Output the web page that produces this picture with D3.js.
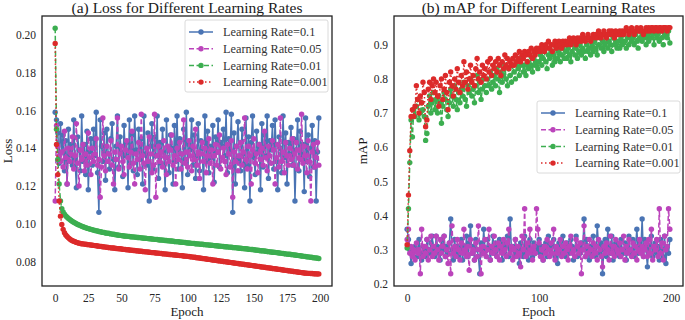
<!DOCTYPE html>
<html>
  <head>
    <meta charset="UTF-8">
    <style>
      body {
        margin: 0;
        background: #fff;
      }
      svg text {
        font-family: 'Liberation Serif', 'Times New Roman', serif;
      }
      .tick text {
        font-size: 11.5px;
        fill: #262626;
      }
      .title {
        font-size: 15.5px;
        fill: #1a1a1a;
      }
      .axis-label {
        font-size: 13px;
        fill: #1a1a1a;
      }
      .legend text {
        font-size: 12.3px;
        fill: #333;
      }
    </style>
    <script src="https://d3js.org/d3.v7.min.js"></script>
  </head>

  <body>
    <svg id="chart"></svg>

    <script type="text/javascript">
      // series labels and colours
      let seriesNames = ['Learning Rate=0.1', 'Learning Rate=0.05', 'Learning Rate=0.01', 'Learning Rate=0.001']
      let seriesColors = ['#4a74b4', '#bb44bb', '#3cae50', '#dc2a2a']
      let seriesDash = [null, '5,2.5', '5,2.5', '1.5,2.5']

      // (a) loss per epoch (epochs 0..199)
      let lossLr01 = [
        0.159, 0.155, 0.148, 0.132, 0.153, 0.138, 0.147, 0.128, 0.144, 0.121, 0.150, 0.136, 0.142, 0.131, 0.155, 0.134, 0.119, 0.146, 0.139, 0.128,
        0.157, 0.133, 0.142, 0.126, 0.149, 0.118, 0.138, 0.145, 0.131, 0.150, 0.136, 0.159, 0.127, 0.106, 0.155, 0.141, 0.133, 0.148, 0.123, 0.150,
        0.137, 0.129, 0.145, 0.153, 0.134, 0.118, 0.141, 0.157, 0.130, 0.146, 0.138, 0.125, 0.152, 0.136, 0.143, 0.119, 0.155, 0.132, 0.147, 0.128,
        0.157, 0.139, 0.126, 0.150, 0.134, 0.145, 0.121, 0.157, 0.137, 0.131, 0.148, 0.112, 0.141, 0.153, 0.129, 0.146, 0.136, 0.157, 0.124, 0.143,
        0.132, 0.150, 0.138, 0.118, 0.155, 0.135, 0.127, 0.147, 0.140, 0.121, 0.152, 0.133, 0.157, 0.129, 0.145, 0.137, 0.119, 0.150, 0.134, 0.159,
        0.126, 0.142, 0.139, 0.155, 0.131, 0.147, 0.124, 0.136, 0.153, 0.128, 0.144, 0.140, 0.118, 0.157, 0.133, 0.149, 0.127, 0.141, 0.135, 0.152,
        0.122, 0.146, 0.138, 0.155, 0.130, 0.143, 0.141, 0.150, 0.136, 0.159, 0.127, 0.145, 0.139, 0.158, 0.106, 0.148, 0.121, 0.141, 0.154, 0.134,
        0.128, 0.150, 0.137, 0.119, 0.156, 0.131, 0.146, 0.112, 0.143, 0.157, 0.135, 0.126, 0.149, 0.138, 0.142, 0.118, 0.153, 0.130, 0.147, 0.136,
        0.157, 0.124, 0.144, 0.139, 0.152, 0.129, 0.155, 0.133, 0.118, 0.146, 0.140, 0.127, 0.157, 0.135, 0.148, 0.121, 0.143, 0.137, 0.151, 0.131,
        0.145, 0.112, 0.139, 0.155, 0.128, 0.149, 0.136, 0.142, 0.117, 0.156, 0.133, 0.147, 0.125, 0.140, 0.152, 0.130, 0.144, 0.112, 0.138, 0.156
      ]
      let lossLr005 = [
        0.112, 0.152, 0.141, 0.136, 0.133, 0.138, 0.130, 0.149, 0.135, 0.121, 0.140, 0.133, 0.137, 0.146, 0.129, 0.136, 0.153, 0.132, 0.120, 0.139,
        0.134, 0.142, 0.128, 0.137, 0.131, 0.148, 0.135, 0.126, 0.140, 0.133, 0.137, 0.145, 0.131, 0.134, 0.114, 0.130, 0.156, 0.136, 0.128, 0.141,
        0.133, 0.137, 0.144, 0.131, 0.121, 0.138, 0.134, 0.156, 0.129, 0.137, 0.141, 0.133, 0.126, 0.139, 0.144, 0.135, 0.130, 0.138, 0.149, 0.132,
        0.121, 0.137, 0.134, 0.143, 0.129, 0.158, 0.136, 0.132, 0.118, 0.140, 0.133, 0.146, 0.137, 0.127, 0.131, 0.158, 0.114, 0.136, 0.141, 0.133,
        0.138, 0.130, 0.144, 0.135, 0.126, 0.141, 0.133, 0.139, 0.147, 0.131, 0.136, 0.121, 0.140, 0.134, 0.143, 0.129, 0.137, 0.155, 0.132, 0.138,
        0.130, 0.144, 0.136, 0.128, 0.141, 0.134, 0.150, 0.131, 0.138, 0.124, 0.137, 0.143, 0.133, 0.140, 0.127, 0.136, 0.145, 0.132, 0.139, 0.121,
        0.136, 0.142, 0.131, 0.138, 0.147, 0.129, 0.135, 0.140, 0.133, 0.126, 0.142, 0.137, 0.130, 0.144, 0.114, 0.138, 0.133, 0.141, 0.128, 0.136,
        0.143, 0.131, 0.138, 0.156, 0.134, 0.129, 0.141, 0.136, 0.121, 0.139, 0.145, 0.132, 0.137, 0.127, 0.142, 0.134, 0.140, 0.131, 0.149, 0.135,
        0.128, 0.141, 0.136, 0.132, 0.144, 0.139, 0.121, 0.135, 0.142, 0.130, 0.156, 0.133, 0.138, 0.127, 0.143, 0.136, 0.131, 0.140, 0.134, 0.145,
        0.131, 0.137, 0.143, 0.129, 0.139, 0.134, 0.158, 0.132, 0.141, 0.136, 0.127, 0.144, 0.133, 0.112, 0.138, 0.142, 0.130, 0.135, 0.143, 0.131
      ]
      let lossLr001 = [
        0.2035, 0.150, 0.134, 0.121, 0.112, 0.108, 0.1062, 0.1050, 0.1041, 0.1034, 0.1028, 0.1022, 0.1017, 0.1012, 0.1008, 0.1004, 0.1000, 0.0996, 0.0993, 0.0990,
        0.0987, 0.0984, 0.0981, 0.0979, 0.0976, 0.0974, 0.0972, 0.0970, 0.0968, 0.0966, 0.0964, 0.0962, 0.0961, 0.0959, 0.0957, 0.0956, 0.0954, 0.0953, 0.0951, 0.0950,
        0.0949, 0.0948, 0.0946, 0.0945, 0.0944, 0.0943, 0.0941, 0.0940, 0.0939, 0.0938, 0.0937, 0.0936, 0.0935, 0.0934, 0.0934, 0.0933, 0.0932, 0.0931, 0.0930, 0.0930,
        0.0929, 0.0928, 0.0927, 0.0927, 0.0926, 0.0925, 0.0924, 0.0923, 0.0923, 0.0922, 0.0921, 0.0920, 0.0920, 0.0919, 0.0918, 0.0917, 0.0917, 0.0916, 0.0915, 0.0914,
        0.0914, 0.0913, 0.0912, 0.0911, 0.0911, 0.0910, 0.0909, 0.0908, 0.0908, 0.0907, 0.0906, 0.0905, 0.0905, 0.0904, 0.0903, 0.0902, 0.0902, 0.0901, 0.0900, 0.0899,
        0.0898, 0.0898, 0.0897, 0.0896, 0.0896, 0.0895, 0.0894, 0.0893, 0.0893, 0.0892, 0.0891, 0.0891, 0.0890, 0.0889, 0.0888, 0.0888, 0.0887, 0.0886, 0.0886, 0.0885,
        0.0884, 0.0883, 0.0883, 0.0882, 0.0881, 0.0881, 0.0880, 0.0879, 0.0878, 0.0878, 0.0877, 0.0876, 0.0876, 0.0875, 0.0874, 0.0873, 0.0873, 0.0872, 0.0871, 0.0870,
        0.0870, 0.0869, 0.0868, 0.0867, 0.0867, 0.0866, 0.0865, 0.0864, 0.0863, 0.0863, 0.0862, 0.0861, 0.0860, 0.0859, 0.0858, 0.0857, 0.0857, 0.0856, 0.0855, 0.0854,
        0.0853, 0.0852, 0.0851, 0.0850, 0.0849, 0.0849, 0.0848, 0.0847, 0.0846, 0.0845, 0.0844, 0.0843, 0.0842, 0.0841, 0.0840, 0.0839, 0.0838, 0.0838, 0.0837, 0.0836,
        0.0835, 0.0834, 0.0833, 0.0832, 0.0831, 0.0830, 0.0829, 0.0828, 0.0827, 0.0826, 0.0825, 0.0824, 0.0823, 0.0822, 0.0821, 0.0820, 0.0819, 0.0818, 0.0817, 0.0816
      ]
      let lossLr0001 = [
        0.1955, 0.142, 0.126, 0.112, 0.104, 0.0996, 0.0970, 0.0952, 0.0940, 0.0932, 0.0925, 0.0919, 0.0914, 0.0910, 0.0907, 0.0904, 0.0901, 0.0899, 0.0897, 0.0895,
        0.0894, 0.0893, 0.0892, 0.0891, 0.0890, 0.0889, 0.0888, 0.0887, 0.0886, 0.0885, 0.0884, 0.0883, 0.0882, 0.0881, 0.0880, 0.0879, 0.0878, 0.0877, 0.0876, 0.0875,
        0.0874, 0.0873, 0.0872, 0.0871, 0.0871, 0.0870, 0.0869, 0.0868, 0.0867, 0.0867, 0.0866, 0.0865, 0.0864, 0.0863, 0.0862, 0.0862, 0.0861, 0.0860, 0.0859, 0.0858,
        0.0858, 0.0857, 0.0856, 0.0855, 0.0854, 0.0854, 0.0853, 0.0852, 0.0851, 0.0851, 0.0850, 0.0849, 0.0848, 0.0847, 0.0847, 0.0846, 0.0845, 0.0844, 0.0844, 0.0843,
        0.0842, 0.0841, 0.0840, 0.0840, 0.0839, 0.0838, 0.0837, 0.0837, 0.0836, 0.0835, 0.0834, 0.0834, 0.0833, 0.0832, 0.0831, 0.0831, 0.0830, 0.0829, 0.0828, 0.0828,
        0.0827, 0.0826, 0.0825, 0.0824, 0.0823, 0.0822, 0.0821, 0.0820, 0.0819, 0.0818, 0.0817, 0.0816, 0.0815, 0.0814, 0.0813, 0.0812, 0.0811, 0.0810, 0.0809, 0.0808,
        0.0807, 0.0806, 0.0805, 0.0804, 0.0803, 0.0802, 0.0801, 0.0800, 0.0799, 0.0798, 0.0797, 0.0796, 0.0795, 0.0794, 0.0793, 0.0792, 0.0791, 0.0790, 0.0789, 0.0788,
        0.0787, 0.0786, 0.0785, 0.0784, 0.0783, 0.0782, 0.0781, 0.0780, 0.0779, 0.0778, 0.0777, 0.0776, 0.0775, 0.0774, 0.0773, 0.0772, 0.0771, 0.0770, 0.0769, 0.0768,
        0.0767, 0.0766, 0.0765, 0.0764, 0.0763, 0.0762, 0.0761, 0.0760, 0.0759, 0.0758, 0.0757, 0.0756, 0.0755, 0.0754, 0.0753, 0.0752, 0.0751, 0.0750, 0.0749, 0.0748,
        0.0747, 0.0746, 0.0745, 0.0744, 0.0743, 0.0742, 0.0741, 0.0740, 0.0739, 0.0738, 0.0738, 0.0737, 0.0737, 0.0736, 0.0736, 0.0735, 0.0735, 0.0734, 0.0734, 0.0734
      ]

      // (b) mAP per epoch (epochs 0..199)
      let mapLr01 = [
        0.36, 0.33, 0.30, 0.26, 0.29, 0.28, 0.31, 0.30, 0.28, 0.33, 0.29, 0.27, 0.31, 0.30, 0.28, 0.33, 0.30, 0.29, 0.32, 0.34,
        0.30, 0.28, 0.34, 0.31, 0.29, 0.27, 0.33, 0.30, 0.34, 0.28, 0.31, 0.29, 0.32, 0.39, 0.30, 0.27, 0.33, 0.29, 0.31, 0.28,
        0.30, 0.33, 0.27, 0.31, 0.29, 0.34, 0.28, 0.32, 0.37, 0.29, 0.31, 0.27, 0.33, 0.30, 0.28, 0.23, 0.32, 0.29, 0.36, 0.30,
        0.28, 0.33, 0.31, 0.27, 0.30, 0.34, 0.29, 0.32, 0.28, 0.31, 0.33, 0.30, 0.27, 0.32, 0.29, 0.31, 0.34, 0.28, 0.39, 0.30,
        0.31, 0.28, 0.33, 0.29, 0.30, 0.26, 0.32, 0.30, 0.28, 0.34, 0.29, 0.31, 0.27, 0.33, 0.30, 0.28, 0.32, 0.29, 0.31, 0.30,
        0.33, 0.29, 0.31, 0.27, 0.30, 0.32, 0.28, 0.34, 0.30, 0.29, 0.31, 0.33, 0.28, 0.30, 0.26, 0.32, 0.29, 0.31, 0.34, 0.30,
        0.28, 0.32, 0.30, 0.29, 0.33, 0.31, 0.27, 0.30, 0.34, 0.28, 0.31, 0.29, 0.32, 0.30, 0.39, 0.28, 0.33, 0.30, 0.27, 0.31,
        0.29, 0.34, 0.30, 0.28, 0.37, 0.31, 0.29, 0.32, 0.23, 0.30, 0.33, 0.28, 0.36, 0.31, 0.29, 0.34, 0.27, 0.30, 0.32, 0.29,
        0.31, 0.28, 0.33, 0.30, 0.29, 0.32, 0.27, 0.31, 0.34, 0.29, 0.30, 0.33, 0.28, 0.31, 0.36, 0.29, 0.32, 0.30, 0.39, 0.28,
        0.33, 0.30, 0.25, 0.31, 0.29, 0.34, 0.28, 0.30, 0.32, 0.29, 0.31, 0.27, 0.33, 0.30, 0.28, 0.34, 0.26, 0.31, 0.29, 0.33
      ]
      let mapLr005 = [
        0.33, 0.36, 0.29, 0.31, 0.28, 0.30, 0.27, 0.32, 0.29, 0.30, 0.23, 0.36, 0.28, 0.31, 0.29, 0.33, 0.27, 0.30, 0.34, 0.28,
        0.31, 0.29, 0.34, 0.30, 0.27, 0.33, 0.29, 0.31, 0.34, 0.28, 0.30, 0.26, 0.32, 0.23, 0.37, 0.29, 0.31, 0.28, 0.33, 0.30,
        0.27, 0.32, 0.29, 0.36, 0.30, 0.28, 0.31, 0.24, 0.33, 0.29, 0.30, 0.27, 0.32, 0.28, 0.37, 0.30, 0.23, 0.31, 0.29, 0.33,
        0.28, 0.30, 0.36, 0.27, 0.31, 0.29, 0.34, 0.30, 0.28, 0.32, 0.27, 0.31, 0.29, 0.33, 0.30, 0.28, 0.32, 0.36, 0.29, 0.31,
        0.27, 0.30, 0.33, 0.28, 0.31, 0.29, 0.25, 0.34, 0.30, 0.42, 0.28, 0.32, 0.29, 0.36, 0.30, 0.27, 0.31, 0.29, 0.42, 0.36,
        0.32, 0.28, 0.30, 0.27, 0.31, 0.29, 0.33, 0.30, 0.28, 0.32, 0.29, 0.36, 0.27, 0.31, 0.29, 0.30, 0.33, 0.28, 0.31, 0.29,
        0.32, 0.30, 0.27, 0.31, 0.34, 0.29, 0.30, 0.28, 0.33, 0.31, 0.29, 0.32, 0.23, 0.30, 0.37, 0.28, 0.31, 0.29, 0.33, 0.30,
        0.28, 0.32, 0.29, 0.31, 0.27, 0.33, 0.30, 0.28, 0.25, 0.31, 0.29, 0.32, 0.30, 0.27, 0.34, 0.29, 0.31, 0.28, 0.33, 0.30,
        0.29, 0.32, 0.28, 0.30, 0.34, 0.27, 0.31, 0.29, 0.33, 0.30, 0.28, 0.32, 0.29, 0.31, 0.27, 0.30, 0.33, 0.29, 0.31, 0.28,
        0.30, 0.32, 0.28, 0.33, 0.29, 0.36, 0.27, 0.31, 0.30, 0.33, 0.28, 0.42, 0.29, 0.32, 0.27, 0.34, 0.30, 0.31, 0.42, 0.36
      ]
      let mapLr001 = [
        0.305, 0.42, 0.555, 0.68, 0.63, 0.71, 0.69, 0.72, 0.74, 0.68, 0.70, 0.73, 0.71, 0.69, 0.62, 0.64, 0.72, 0.75, 0.70, 0.73,
        0.76, 0.71, 0.74, 0.70, 0.75, 0.73, 0.67, 0.72, 0.76, 0.74, 0.71, 0.69, 0.73, 0.77, 0.75, 0.72, 0.78, 0.74, 0.71, 0.76,
        0.73, 0.77, 0.75, 0.79, 0.74, 0.72, 0.78, 0.76, 0.80, 0.75, 0.77, 0.73, 0.78, 0.81, 0.76, 0.79, 0.74, 0.77, 0.80, 0.78,
        0.76, 0.80, 0.78, 0.82, 0.77, 0.79, 0.81, 0.78, 0.83, 0.80, 0.76, 0.82, 0.79, 0.81, 0.84, 0.80, 0.78, 0.83, 0.81, 0.79,
        0.84, 0.82, 0.80, 0.85, 0.83, 0.81, 0.84, 0.86, 0.82, 0.84, 0.81, 0.85, 0.83, 0.87, 0.84, 0.82, 0.86, 0.84, 0.85, 0.83,
        0.85, 0.87, 0.84, 0.86, 0.88, 0.85, 0.83, 0.87, 0.86, 0.88, 0.84, 0.87, 0.85, 0.89, 0.86, 0.88, 0.85, 0.87, 0.89, 0.86,
        0.88, 0.86, 0.89, 0.87, 0.85, 0.88, 0.90, 0.87, 0.89, 0.86, 0.88, 0.90, 0.87, 0.89, 0.88, 0.86, 0.90, 0.88, 0.89, 0.87,
        0.90, 0.88, 0.91, 0.89, 0.87, 0.90, 0.92, 0.89, 0.91, 0.88, 0.90, 0.92, 0.89, 0.91, 0.90, 0.88, 0.92, 0.90, 0.91, 0.89,
        0.91, 0.89, 0.92, 0.90, 0.93, 0.91, 0.89, 0.92, 0.90, 0.93, 0.91, 0.92, 0.90, 0.93, 0.91, 0.89, 0.92, 0.94, 0.91, 0.93,
        0.92, 0.90, 0.93, 0.91, 0.94, 0.92, 0.93, 0.90, 0.94, 0.92, 0.93, 0.91, 0.94, 0.92, 0.90, 0.93, 0.94, 0.92, 0.94, 0.905
      ]
      let mapLr0001 = [
        0.315, 0.46, 0.59, 0.69, 0.71, 0.69, 0.72, 0.78, 0.74, 0.70, 0.75, 0.73, 0.79, 0.76, 0.66, 0.68, 0.77, 0.79, 0.74, 0.78,
        0.80, 0.76, 0.79, 0.75, 0.72, 0.78, 0.80, 0.74, 0.77, 0.81, 0.76, 0.71, 0.79, 0.82, 0.78, 0.75, 0.80, 0.77, 0.83, 0.79,
        0.76, 0.81, 0.78, 0.85, 0.79, 0.82, 0.77, 0.80, 0.84, 0.79, 0.81, 0.78, 0.83, 0.86, 0.80, 0.82, 0.79, 0.84, 0.81, 0.83,
        0.80, 0.85, 0.82, 0.86, 0.81, 0.84, 0.83, 0.85, 0.82, 0.86, 0.84, 0.81, 0.85, 0.83, 0.87, 0.84, 0.86, 0.83, 0.85, 0.84,
        0.86, 0.84, 0.87, 0.85, 0.86, 0.88, 0.85, 0.87, 0.86, 0.88, 0.87, 0.85, 0.88, 0.87, 0.89, 0.86, 0.88, 0.87, 0.89, 0.88,
        0.89, 0.88, 0.90, 0.89, 0.88, 0.90, 0.89, 0.91, 0.89, 0.90, 0.88, 0.90, 0.91, 0.89, 0.90, 0.91, 0.90, 0.89, 0.91, 0.90,
        0.91, 0.90, 0.91, 0.92, 0.90, 0.91, 0.92, 0.91, 0.90, 0.92, 0.91, 0.92, 0.91, 0.93, 0.92, 0.91, 0.92, 0.93, 0.92, 0.91,
        0.92, 0.93, 0.92, 0.93, 0.92, 0.94, 0.93, 0.92, 0.93, 0.94, 0.93, 0.92, 0.93, 0.94, 0.93, 0.94, 0.93, 0.92, 0.94, 0.93,
        0.93, 0.94, 0.93, 0.94, 0.93, 0.94, 0.95, 0.94, 0.93, 0.94, 0.95, 0.94, 0.93, 0.94, 0.95, 0.94, 0.94, 0.95, 0.94, 0.93,
        0.94, 0.95, 0.94, 0.95, 0.94, 0.95, 0.95, 0.94, 0.95, 0.95, 0.94, 0.95, 0.95, 0.94, 0.95, 0.95, 0.95, 0.94, 0.95, 0.95
      ]

      // tick labels
      let lossXTicks = [0, 25, 50, 75, 100, 125, 150, 175, 200]
      let lossYTicks = [0.08, 0.10, 0.12, 0.14, 0.16, 0.18, 0.20]
      let mapXTicks = [0, 100, 200]
      let mapYTicks = [0.2, 0.3, 0.4, 0.5, 0.6, 0.7, 0.8, 0.9]

      let width = 685
      let height = 320
      let svg = d3.select('#chart')
        .attr('width', width)
        .attr('height', height)
        .attr('font-family', "'Liberation Serif', serif")

      function drawPanel(cfg) {
        let {left, right, top, bottom} = cfg

        let xScale = d3.scaleLinear()
          .domain([-9.95, 208.95])
          .range([left, right])

        let yScale = d3.scaleLinear()
          .domain(cfg.yDomain)
          .range([bottom, top])

        let g = svg.append('g')

        // series
        cfg.series.forEach((values, si) => {
          let line = d3.line()
            .x((d, i) => xScale(i))
            .y(d => yScale(d))

          let s = g.append('g')
          s.append('path')
            .datum(values)
            .attr('d', line)
            .attr('fill', 'none')
            .attr('stroke', seriesColors[si])
            .attr('stroke-width', 1.5)
            .attr('stroke-dasharray', seriesDash[si])

          s.selectAll('circle')
            .data(values)
            .enter()
            .append('circle')
            .attr('cx', (d, i) => xScale(i))
            .attr('cy', d => yScale(d))
            .attr('r', 2.7)
            .attr('fill', seriesColors[si])
        })

        // axes
        let axisX = d3.axisBottom(xScale)
          .tickValues(cfg.xTicks)
          .tickSize(0)
          .tickPadding(8)
        g.append('g')
          .attr('transform', `translate(0, ${bottom})`)
          .call(axisX)
          .call(a => a.select('.domain').remove())
          .attr('font-family', null)
          .attr('font-size', null)

        let axisY = d3.axisLeft(yScale)
          .tickValues(cfg.yTicks)
          .tickFormat(d3.format(cfg.yFormat))
          .tickSize(0)
          .tickPadding(6)
        g.append('g')
          .attr('transform', `translate(${left}, 0)`)
          .call(axisY)
          .call(a => a.select('.domain').remove())
          .attr('font-family', null)
          .attr('font-size', null)

        // frame
        g.append('rect')
          .attr('x', left)
          .attr('y', top)
          .attr('width', right - left)
          .attr('height', bottom - top)
          .attr('fill', 'none')
          .attr('stroke', '#222')
          .attr('stroke-width', 1.3)

        g.append('text')
          .attr('class', 'title')
          .attr('x', (left + right) / 2)
          .attr('y', top - 3)
          .attr('text-anchor', 'middle')
          .text(cfg.title)

        g.append('text')
          .attr('class', 'axis-label')
          .attr('x', (left + right) / 2)
          .attr('y', bottom + 30)
          .attr('text-anchor', 'middle')
          .text('Epoch')

        g.append('text')
          .attr('class', 'axis-label')
          .attr('transform', `translate(${cfg.yLabelX}, ${(top + bottom) / 2}) rotate(-90)`)
          .attr('text-anchor', 'middle')
          .text(cfg.yLabel)

        // legend
        let lg = cfg.legend
        let legend = g.append('g')
          .attr('class', 'legend')
        legend.append('rect')
          .attr('x', lg.x)
          .attr('y', lg.y)
          .attr('width', lg.w)
          .attr('height', lg.h)
          .attr('rx', 2)
          .attr('fill', '#fff')
          .attr('fill-opacity', 0.85)
          .attr('stroke', '#d0d0d0')
          .attr('stroke-width', 0.8)

        let rows = legend.selectAll('.legend-row')
          .data(seriesNames)
          .enter()
          .append('g')
          .attr('class', 'legend-row')
          .attr('transform', (d, i) => `translate(${lg.x + 4}, ${lg.y + 12 + i * 16.7})`)

        rows.append('line')
          .attr('x1', 0)
          .attr('x2', 24)
          .attr('stroke', (d, i) => seriesColors[i])
          .attr('stroke-width', 1.5)
          .attr('stroke-dasharray', (d, i) => seriesDash[i])
        rows.append('circle')
          .attr('cx', 12)
          .attr('r', 2.7)
          .attr('fill', (d, i) => seriesColors[i])
        rows.append('text')
          .attr('x', 34)
          .attr('dy', '0.35em')
          .text(d => d)
      }

      drawPanel({
        left: 42, right: 332, top: 16, bottom: 286,
        yDomain: [0.067, 0.2100],
        series: [lossLr01, lossLr005, lossLr001, lossLr0001],
        xTicks: lossXTicks, yTicks: lossYTicks, yFormat: '.2f',
        title: '(a) Loss for Different Learning Rates',
        yLabel: 'Loss', yLabelX: 12,
        legend: {x: 185, y: 20, w: 143, h: 72}
      })

      drawPanel({
        left: 394, right: 683, top: 16, bottom: 286,
        yDomain: [0.194, 0.984],
        series: [mapLr01, mapLr005, mapLr001, mapLr0001],
        xTicks: mapXTicks, yTicks: mapYTicks, yFormat: '.1f',
        title: '(b) mAP for Different Learning Rates',
        yLabel: 'mAP', yLabelX: 367,
        legend: {x: 537, y: 101, w: 143, h: 72}
      })
    </script>
  </body>
</html>
